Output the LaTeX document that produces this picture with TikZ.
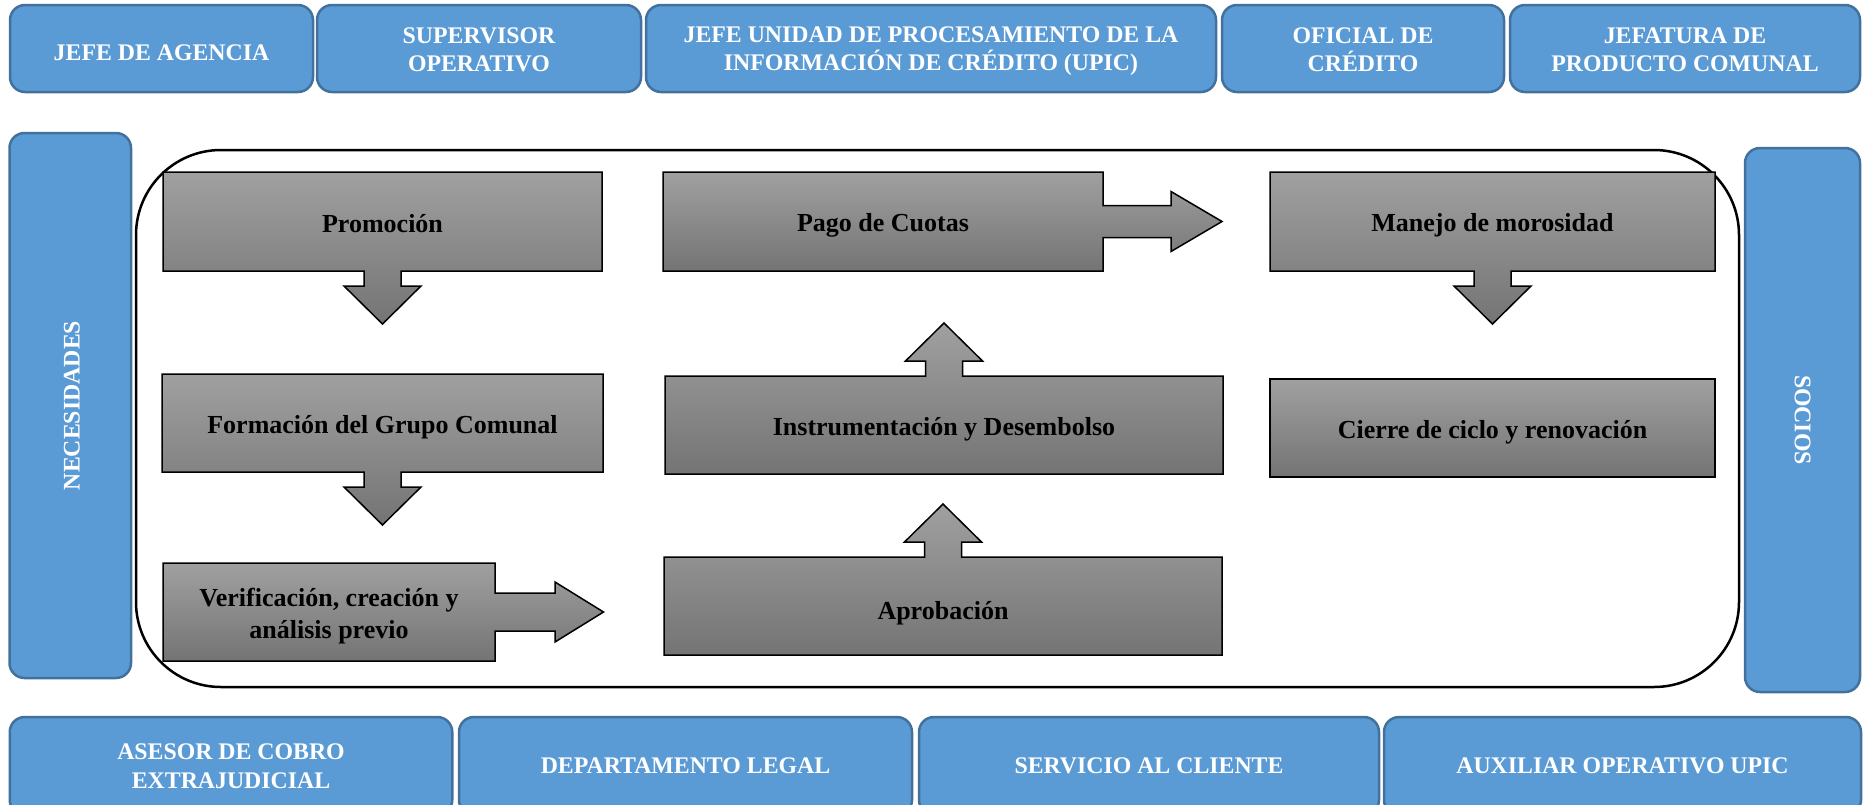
\documentclass[tikz,border=0pt]{standalone}
\usepackage{fontspec}
\usepackage{graphicx}
\setmainfont{Liberation Serif}
\usetikzlibrary{calc,backgrounds}

\definecolor{boxblue}{RGB}{91,155,213}
\definecolor{boxblueline}{RGB}{65,113,156}
\definecolor{graytop}{RGB}{160,160,160}
\definecolor{graybot}{RGB}{116,116,116}

% invisible rules that set the height and depth of a node's text box
\newcommand\rolestrut{\rule[-3pt]{0pt}{29.5pt}}
\newcommand\roletwostrut{\rule[-3pt]{0pt}{52.5pt}}
\newcommand\sidestrut{\rule[-3.3pt]{0pt}{25.3pt}}
\newcommand\stagestrut{\rule[-4.8pt]{0pt}{30.8pt}}

\tikzset{
  role/.style={draw=boxblueline, fill=boxblue, line width=2.5pt,
    rounded corners=15pt, text=white, align=center,
    font=\fontsize{23.8}{28.5}\selectfont\bfseries,
    inner sep=0pt, outer sep=0pt},
  roleone/.style={role, execute at begin node=\rolestrut},
  roletwo/.style={role, execute at begin node=\roletwostrut},
  stagebase/.style={inner sep=0pt, outer sep=0pt, align=center,
    font=\fontsize{26}{32}\selectfont\bfseries},
  stage/.style={stagebase, execute at begin node=\stagestrut},
  stagelow/.style={stagebase, execute at begin node={\rule[-4.8pt]{0pt}{#1}}},
  stagefill/.style={draw=black, line width=1.5pt, line join=miter,
    top color=graytop, bottom color=graybot},
  frame/.style={draw=black, line width=2.5pt, rounded corners=85pt,
    inner sep=0pt, outer sep=0pt},
}

% stage box with an arrow pointing down
\newcommand\calloutdown[1]{%
  \path[stagefill] (#1.north west) -- (#1.north east) -- (#1.south east)
    -- ($(#1.south)+(18.5,0)$) -- ($(#1.south)+(18.5,15)$)
    -- ($(#1.south)+(38.5,15)$) -- ($(#1.south)+(0,53)$)
    -- ($(#1.south)+(-38.5,15)$) -- ($(#1.south)+(-18.5,15)$)
    -- ($(#1.south)+(-18.5,0)$) -- (#1.south west) -- cycle;}
% stage box with an arrow pointing up
\newcommand\calloutup[1]{%
  \path[stagefill] (#1.south west) -- (#1.north west)
    -- ($(#1.north)+(-18.5,0)$) -- ($(#1.north)+(-18.5,-15)$)
    -- ($(#1.north)+(-38.5,-15)$) -- ($(#1.north)+(0,-53)$)
    -- ($(#1.north)+(38.5,-15)$) -- ($(#1.north)+(18.5,-15)$)
    -- ($(#1.north)+(18.5,0)$) -- (#1.north east) -- (#1.south east) -- cycle;}
% stage box with an arrow pointing right:
% #2 shaft half height, #3 head half height, #4 head base, #5 tip
\newcommand\calloutright[5]{%
  \path[stagefill] (#1.south west) -- (#1.north west) -- (#1.north east)
    -- ($(#1.east)+(0,-#2)$) -- ($(#1.east)+(#4,-#2)$)
    -- ($(#1.east)+(#4,-#3)$) -- ($(#1.east)+(#5,0)$)
    -- ($(#1.east)+(#4,#3)$) -- ($(#1.east)+(#4,#2)$)
    -- ($(#1.east)+(0,#2)$) -- (#1.south east) -- cycle;}

\begin{document}
\begin{tikzpicture}[x=1pt,y=-1pt]
  \useasboundingbox (0,0) rectangle (1864,804);
  \clip (0,0) rectangle (1864,804);

  % roles along the top
  \node[roleone, minimum width=303pt, minimum height=87pt] (jefe)  at (161.5,48.5) {JEFE DE AGENCIA};
  \node[roletwo, minimum width=324pt, minimum height=87pt] (sup)   at (479,48.5)   {SUPERVISOR\\OPERATIVO};
  \node[roletwo, minimum width=570pt, minimum height=87pt] (upic)  at (931,48.5)   {JEFE UNIDAD DE PROCESAMIENTO DE LA\\INFORMACIÓN DE CRÉDITO (UPIC)};
  \node[roletwo, minimum width=282pt, minimum height=87pt] (ofi)   at (1363,48.5)  {OFICIAL DE\\CRÉDITO};
  \node[roletwo, minimum width=350pt, minimum height=87pt] (jefat) at (1685,48.5)  {JEFATURA DE\\PRODUCTO COMUNAL};

  % side bars
  \node[role, minimum width=121.5pt, minimum height=545pt] (neces) at (70.25,405.5) {\rotatebox{90}{\sidestrut NECESIDADES}};
  \node[role, minimum width=115pt, minimum height=544pt] (socios) at (1802.5,420) {\rotatebox{-90}{SOCIOS}};

  % roles along the bottom
  \node[role, minimum width=442.5pt, minimum height=98pt] (asesor) at (231,766)   {ASESOR DE COBRO\\EXTRAJUDICIAL};
  \node[role, minimum width=453pt, minimum height=98pt]   (legal)  at (685.5,766) {DEPARTAMENTO LEGAL};
  \node[role, minimum width=460pt, minimum height=98pt]   (serv)   at (1149,766)  {SERVICIO AL CLIENTE};
  \node[role, minimum width=477pt, minimum height=98pt]   (aux)    at (1622.5,766){AUXILIAR OPERATIVO UPIC};

  % process stages
  \node[stage, minimum width=439pt, minimum height=99pt] (promo)  at (382.5,221.5) {Promoción};
  \node[stage, minimum width=441pt, minimum height=98pt] (form)   at (382.5,423)   {Formación del Grupo Comunal};
  \node[stagelow=63.6pt, minimum width=332pt, minimum height=98pt] (verif) at (329,612) {Verificación, creación y\\análisis previo};
  \node[stagelow=37.8pt, minimum width=558pt, minimum height=98pt] (aprob) at (943,606) {Aprobación};
  \node[stage, minimum width=558pt, minimum height=98pt] (instr)  at (944,425)     {Instrumentación y Desembolso};
  \node[stage, minimum width=440pt, minimum height=99pt] (pago)   at (883,221.5)   {Pago de Cuotas};
  \node[stage, minimum width=445pt, minimum height=99pt] (manejo) at (1492.5,221.5){Manejo de morosidad};
  \node[stage, minimum width=445pt, minimum height=98pt] (cierre) at (1492.5,428)  {Cierre de ciclo y renovación};

  \begin{pgfonlayer}{background}
    % frame around the credit cycle
    \node[frame, minimum width=1603pt, minimum height=537pt] (ciclo) at (937.5,418.5) {};
    % stage shapes
    \calloutdown{promo}
    \calloutdown{form}
    \calloutright{verif}{19}{30}{60}{108.5}
    \calloutup{aprob}
    \calloutup{instr}
    \calloutright{pago}{16}{30}{68}{119}
    \calloutdown{manejo}
    \path[stagefill] (cierre.north west) rectangle (cierre.south east);
  \end{pgfonlayer}
\end{tikzpicture}
\end{document}
